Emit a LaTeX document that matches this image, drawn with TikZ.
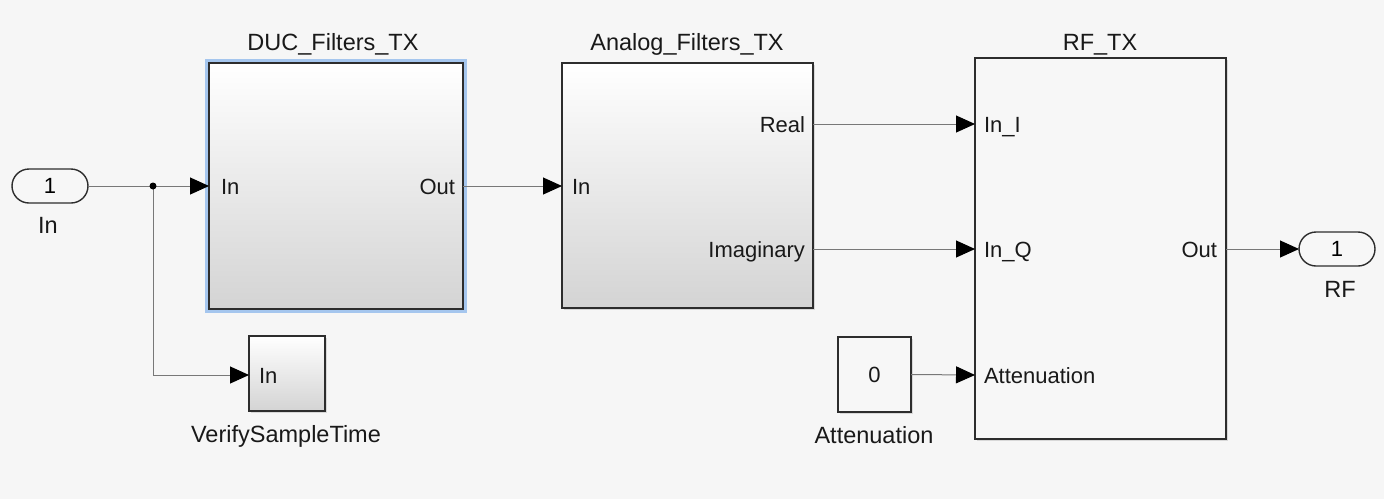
\documentclass[tikz,border=0pt]{standalone}
\usepackage{fontspec}
\setmainfont{Liberation Sans}
\usetikzlibrary{arrows.meta,shadows,shapes.misc}
\definecolor{bg}{RGB}{246,246,246}
\definecolor{wire}{RGB}{120,120,120}
\definecolor{edge}{RGB}{45,45,45}
\definecolor{selblue}{RGB}{165,198,238}
\definecolor{plain}{RGB}{247,247,247}
\begin{document}
\begin{tikzpicture}[x=1pt,y=-1pt,
  every node/.style={inner sep=0pt, outer sep=0pt},
  gblock/.style={draw=edge, line width=1.4pt, rectangle, anchor=north west,
     top color=white, bottom color=black!17,
     drop shadow={shadow xshift=1.5pt, shadow yshift=-1.5pt, opacity=0.25}},
  pblock/.style={draw=edge, line width=1.4pt, rectangle, anchor=north west, fill=plain,
     drop shadow={shadow xshift=1.5pt, shadow yshift=-1.5pt, opacity=0.25}},
  pill/.style={draw=edge, line width=1.4pt, rounded rectangle, fill=plain,
     minimum width=76pt, minimum height=34pt, font=\fontsize{22}{26}\selectfont},
  bname/.style={font=\fontsize{23.5}{28}\selectfont, text=black!90, anchor=base},
  plabel/.style={font=\fontsize{22}{26}\selectfont, text=black!90},
  wire/.style={draw=wire, line width=1pt},
  arr/.style={wire, -{Triangle[length=19pt,width=17pt,color=black]}},
]
\useasboundingbox[fill=bg] (0,0) rectangle (1384,499);

% ports
\node[pill] (inport) at (50,186) {1};
\node[bname] (inlbl) at (48,233) {In};
\node[pill] (rfport) at (1337,249) {1};
\node[bname] (rflbl) at (1340,297) {RF};

% blocks
\node[gblock, minimum width=254pt, minimum height=246pt] (duc) at (209,63) {};
\draw[selblue, line width=2.5pt] ([shift={(-2.5,-2.5)}]duc.north west) rectangle ([shift={(2.5,2.5)}]duc.south east);
\draw[edge, line width=1.4pt] (duc.north west) rectangle (duc.south east);
\node[gblock, minimum width=251pt, minimum height=245pt] (ana) at (562,63) {};
\node[pblock, minimum width=251pt, minimum height=381pt] (rf) at (975,58) {};
\node[gblock, minimum width=76pt, minimum height=75pt] (vst) at (249,336) {};
\node[pblock, minimum width=73pt, minimum height=75pt] (cst) at (838,337) {};

% block names
\node[bname] (ducname) at (333,50) {DUC\_Filters\_TX};
\node[bname] (ananame) at (687,50) {Analog\_Filters\_TX};
\node[bname] (rfname) at (1100,50) {RF\_TX};
\node[bname] (vstname) at (286,442) {VerifySampleTime};
\node[bname] (cstname) at (874,443) {Attenuation};
\node[plabel, anchor=center] (cstval) at (cst.center) {0};

% port labels
\node[plabel, anchor=base west] (ducin) at (221,194) {In};
\node[plabel, anchor=base east] (ducout) at (455,194) {Out};
\node[plabel, anchor=base west] (anain) at (572,194) {In};
\node[plabel, anchor=base east] (anare) at (805,132) {Real};
\node[plabel, anchor=base east] (anaim) at (805,257) {Imaginary};
\node[plabel, anchor=base west] (rfi) at (984,132) {In\_I};
\node[plabel, anchor=base west] (rfq) at (984,257) {In\_Q};
\node[plabel, anchor=base west] (rfatt) at (984,383) {Attenuation};
\node[plabel, anchor=base east] (rfout) at (1217,257) {Out};
\node[plabel, anchor=base west] (vstin) at (259,383) {In};

% port coordinates
\coordinate (pduci) at (209,186);
\coordinate (pduco) at (463,186);
\coordinate (panai) at (562,186);
\coordinate (panar) at (813,124);
\coordinate (panaq) at (813,249);
\coordinate (prfi) at (975,124);
\coordinate (prfq) at (975,249);
\coordinate (prfa) at (975,375);
\coordinate (prfo) at (1226,249);
\coordinate (pvsti) at (249,375);
\coordinate (dot) at (153,186);

% wires
\draw[wire] (inport.east) -- (dot);
\draw[arr] (dot) -- (pduci);
\draw[arr] (dot) |- (pvsti);
\fill[black] (dot) circle (3.5pt);
\draw[arr] (pduco) -- (panai);
\draw[arr] (panar) -- (prfi);
\draw[arr] (panaq) -- (prfq);
\draw[arr] (cst.east) -- (prfa);
\draw[arr] (prfo) -- (rfport.west);
\end{tikzpicture}
\end{document}
